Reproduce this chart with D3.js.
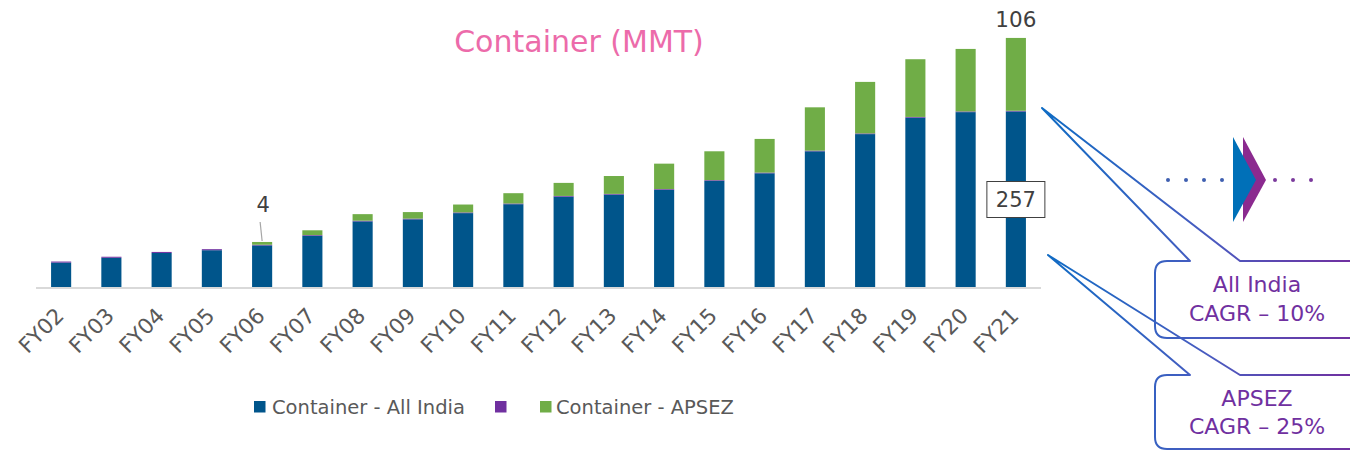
<!DOCTYPE html>
<html>
<head>
<meta charset="utf-8">
<script src="https://cdn.jsdelivr.net/npm/d3@7"></script>
<style>
  html, body { margin: 0; padding: 0; background: #fff; }
  svg { display: block; font-family: "DejaVu Sans", "Noto Sans", sans-serif; }
</style>
</head>
<body>
<svg id="chart" width="1350" height="452"></svg>
<script>
// ---- data ----
const categories = ["FY02","FY03","FY04","FY05","FY06","FY07","FY08","FY09","FY10","FY11",
                    "FY12","FY13","FY14","FY15","FY16","FY17","FY18","FY19","FY20","FY21"];
const allIndia = [37, 44, 51, 55, 62, 76, 97, 100, 109, 122, 133, 136, 143, 156, 167, 199, 224, 248, 256, 257];
const purpleSeries = [1.5, 1.5, 1.5, 1.5, 1, 1, 1, 1, 1, 1, 1, 1, 1, 1, 1, 1, 1, 1, 1, 1];
const apsez = [0, 0, 0, 0, 4, 7, 9.5, 9.5, 11.5, 15, 19, 26, 37, 42, 49, 63, 75, 84, 91, 106];
const seriesNames = ["Container - All India", "", "Container - APSEZ"];
const seriesColors = ["#00558B", "#7030A0", "#70AD47"];
const title = "Container (MMT)";
const callouts = [
  { lines: ["All India", "CAGR \u2013 10%"] },
  { lines: ["APSEZ", "CAGR \u2013 25%"] }
];

// ---- chart ----
const svg = d3.select("#chart");
const x = d3.scaleBand().domain(categories).range([36, 1041]).paddingInner(0.6).paddingOuter(0.3);
const y = d3.scaleLinear().domain([0, 400]).range([288, 288 - 400 * 0.687]);

const rows = categories.map((c, i) => ({ cat: c, s0: allIndia[i], s1: purpleSeries[i], s2: apsez[i] }));
const stack = d3.stack().keys(["s0", "s1", "s2"])(rows);

// title
svg.append("text").attr("x", 579).attr("y", 52).attr("text-anchor", "middle")
  .attr("font-size", 30).attr("fill", "#EC6BAA").text(title);

// bars
stack.forEach((layer, li) => {
  svg.append("g").selectAll("rect").data(layer).join("rect")
    .attr("x", d => x(d.data.cat))
    .attr("width", x.bandwidth())
    .attr("y", d => y(d[1]))
    .attr("height", d => Math.max(0, y(d[0]) - y(d[1])))
    .attr("fill", seriesColors[li]);
});

// axis
const xAxis = d3.axisBottom(x).tickSize(0).tickPadding(0);
const gx = svg.append("g").attr("transform", "translate(0,288)").call(xAxis);
gx.select(".domain").attr("stroke", "#D9D9D9").attr("stroke-width", 2)
  .attr("d", "M36,0H1041");
gx.selectAll(".tick text")
  .attr("font-size", 21.5).attr("fill", "#595959")
  .attr("font-family", "'DejaVu Sans', sans-serif")
  .attr("text-anchor", "end")
  .attr("dy", 0)
  .attr("transform", "translate(4,29) rotate(-45)");

// data labels
const i06 = categories.indexOf("FY06");
const cx06 = x("FY06") + x.bandwidth() / 2;
svg.append("line").attr("x1", cx06 - 2).attr("y1", 222).attr("x2", cx06).attr("y2", y(allIndia[i06] + purpleSeries[i06] + apsez[i06]) - 1)
  .attr("stroke", "#A6A6A6").attr("stroke-width", 1.2);
svg.append("text").attr("x", cx06 + 1).attr("y", 212).attr("text-anchor", "middle")
  .attr("font-size", 21).attr("fill", "#404040").text(apsez[i06]);

const i21 = categories.length - 1;
const cx21 = x("FY21") + x.bandwidth() / 2;
svg.append("text").attr("x", cx21).attr("y", y(allIndia[i21] + purpleSeries[i21] + apsez[i21]) - 11)
  .attr("text-anchor", "middle").attr("font-size", 21.5).attr("fill", "#404040").text(apsez[i21]);
svg.append("rect").attr("x", cx21 - 29).attr("y", 181.5).attr("width", 58).attr("height", 36)
  .attr("fill", "#fff").attr("stroke", "#404040").attr("stroke-width", 1);
svg.append("text").attr("x", cx21).attr("y", 207).attr("text-anchor", "middle")
  .attr("font-size", 21).attr("fill", "#404040").text(allIndia[i21]);

// legend
const legendItems = [
  { sx: 254, tx: 272 },
  { sx: 495, tx: null },
  { sx: 540, tx: 556 }
];
legendItems.forEach((it, i) => {
  svg.append("rect").attr("x", it.sx).attr("y", 401).attr("width", 11.5).attr("height", 11.5).attr("fill", seriesColors[i]);
  if (seriesNames[i]) {
    svg.append("text").attr("x", it.tx).attr("y", 413.5).attr("font-size", 19.5).attr("fill", "#595959").text(seriesNames[i]);
  }
});

// gradient for callouts
const defs = svg.append("defs");
const grad = defs.append("linearGradient").attr("id", "cg").attr("gradientUnits", "userSpaceOnUse")
  .attr("x1", 1040).attr("y1", 0).attr("x2", 1350).attr("y2", 0);
grad.append("stop").attr("offset", "0%").attr("stop-color", "#0E6CC4");
grad.append("stop").attr("offset", "55%").attr("stop-color", "#4A5BC0");
grad.append("stop").attr("offset", "100%").attr("stop-color", "#7030A0");

function callout(tipX, tipY, top, bottom, lines, baselines) {
  const left = 1155, right = 1362, r = 12;
  const p = d3.path();
  p.moveTo(1240, top);
  p.lineTo(right, top);
  p.lineTo(right, bottom);
  p.lineTo(left + r, bottom);
  p.quadraticCurveTo(left, bottom, left, bottom - r);
  p.lineTo(left, top + r);
  p.quadraticCurveTo(left, top, left + r, top);
  p.lineTo(1190, top);
  p.lineTo(tipX, tipY);
  p.closePath();
  svg.append("path").attr("d", p.toString()).attr("fill", "none")
    .attr("stroke", "url(#cg)").attr("stroke-width", 2).attr("stroke-linejoin", "round");
  lines.forEach((t, k) => {
    svg.append("text").attr("x", 1257).attr("y", baselines[k])
      .attr("text-anchor", "middle").attr("font-size", 22).attr("fill", "#7030A0").text(t);
  });
}
callout(1042, 108, 261, 338, callouts[0].lines, [292, 321]);
callout(1048, 255, 375, 449, callouts[1].lines, [406, 434]);

// arrow graphic
const dotsBlue = [1168, 1186, 1204, 1222];
const dotsPurple = [1275, 1293, 1311];
svg.append("g").selectAll("circle").data(dotsBlue).join("circle")
  .attr("cx", d => d).attr("cy", 180).attr("r", 2).attr("fill", "#3F5FB0");
svg.append("g").selectAll("circle").data(dotsPurple).join("circle")
  .attr("cx", d => d).attr("cy", 180).attr("r", 2).attr("fill", "#7B3A9C");
svg.append("path").attr("d", "M1243,137 L1266,180 L1243,222 Z").attr("fill", "#8B2A8F");
svg.append("path").attr("d", "M1233,137 L1256,180 L1233,222 Z").attr("fill", "#0070B8");
</script>
</body>
</html>
